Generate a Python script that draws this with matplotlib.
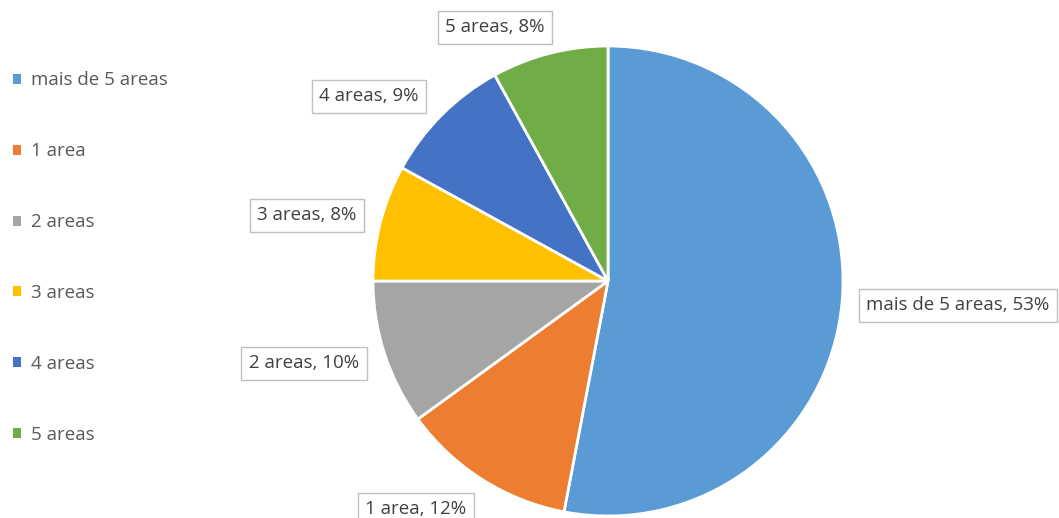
import matplotlib.pyplot as plt
from matplotlib.patches import Patch

# data
categories = ["mais de 5 areas", "1 area", "2 areas", "3 areas", "4 areas", "5 areas"]
shares = [53, 12, 10, 8, 9, 8]
colors = ["#5B9BD5", "#ED7D31", "#A5A5A5", "#FFC000", "#4472C4", "#70AD47"]

# where the data labels sit (pixels from top-left)
label_pos = [(958, 305), (416, 509), (304, 363), (307, 215), (369, 96), (495, 27)]

W, H = 1059, 518
plt.rcParams['font.family'] = ['Open Sans', 'DejaVu Sans']

fig = plt.figure(figsize=(W / 100, H / 100), dpi=100)
ax = fig.add_axes([0, 0, 1, 1])

wedges, _ = ax.pie(shares, colors=colors, startangle=90, counterclock=False,
                   center=(608, H - 281), radius=235, frame=True,
                   wedgeprops=dict(edgecolor="white", linewidth=2))
ax.set_xlim(0, W)
ax.set_ylim(0, H)
ax.axis("off")

for cat, val, (px, py) in zip(categories, shares, label_pos):
    ax.text(px, H - py, f"{cat}, {val}%", ha="center", va="center",
            fontsize=13.5, color="#404040",
            bbox=dict(boxstyle="square,pad=0.4", fc="white", ec="#BFBFBF", lw=1))

handles = [Patch(facecolor=c, edgecolor="none") for c in colors]
fig.legend(handles, categories, loc="upper left", bbox_to_anchor=(0.012, 0.862),
           frameon=False, fontsize=13.5, labelcolor="#595959",
           handlelength=0.45, handleheight=0.45, handletextpad=0.55,
           labelspacing=2.82, borderaxespad=0, borderpad=0)

fig.savefig("out.png", dpi=100)
